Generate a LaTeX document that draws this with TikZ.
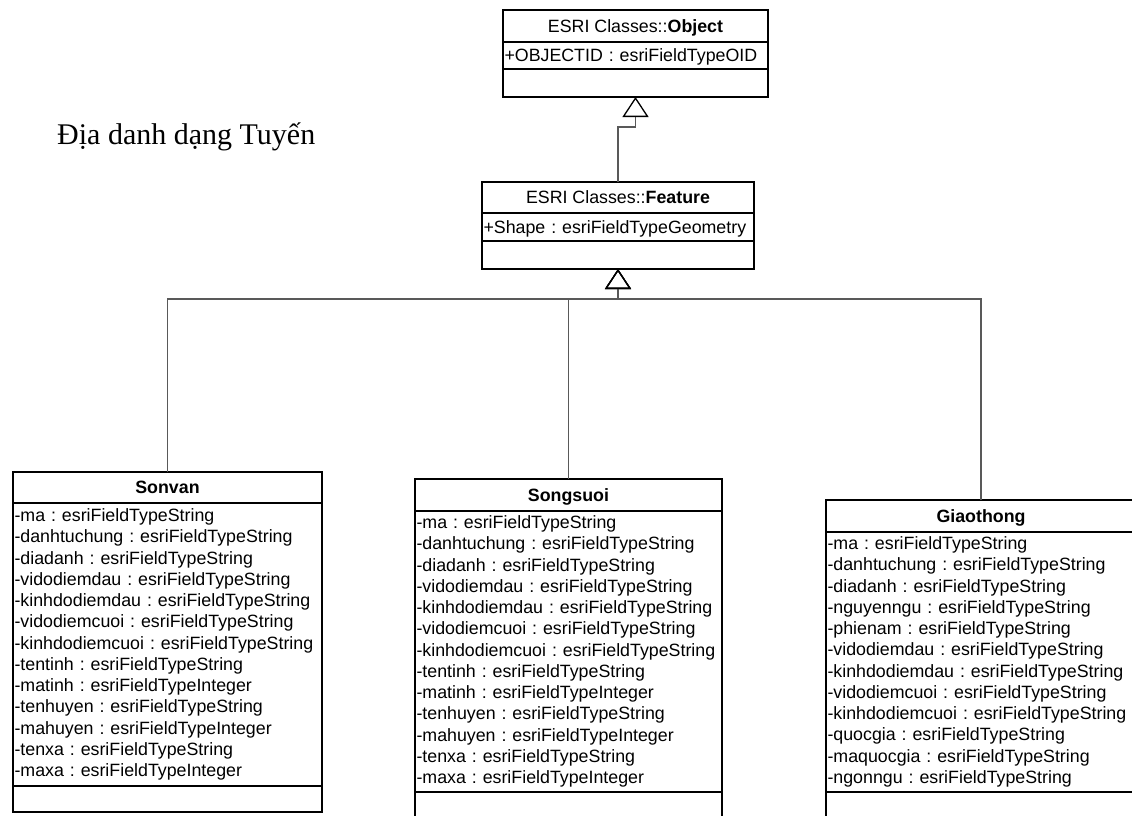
\documentclass[tikz,border=0pt]{standalone}
\usepackage{fontspec}
\setmainfont{Liberation Sans}
\newfontfamily\headfont{Liberation Serif}
\usetikzlibrary{positioning,calc,arrows.meta}
\frenchspacing
\tikzset{
  clstitle/.style={draw, line width=1.5pt, outer sep=0pt, inner sep=0pt, text height=12.7pt, text depth=0pt},
  clsattr/.style={draw, line width=1.5pt, outer sep=0pt, inner xsep=1.5pt, inner ysep=0pt, align=left},
  clsline/.style={clsattr, text height=12.7pt, text depth=0pt},
  clsops/.style={draw, line width=1.5pt, outer sep=0pt, inner sep=0pt},
  gen/.style={draw=black!65, line width=1.2pt, -{Triangle[open, width=26pt, length=20pt, color=black, line width=1.3pt]}}
}

\begin{document}
\begin{tikzpicture}[x=1pt, y=-1pt, font=\fontsize{17.8}{21.25}\selectfont]
\useasboundingbox (0,0) rectangle (1132,816);
\node[anchor=base west, inner sep=0pt, font=\headfont\fontsize{30}{36}\selectfont] (heading) at (57,144) {Địa danh dạng Tuyến};

\node[clstitle, anchor=north west, minimum width=265pt, minimum height=32pt] (object) at (503,10) {ESRI Classes::\textbf{Object}};
\node[clsline, text width=262pt, minimum height=27pt, below=0pt of object] (objectattr) {+OBJECTID : esriFieldTypeOID};
\node[clsops, minimum width=265pt, minimum height=28pt, below=0pt of objectattr] (objectops) {};

\node[clstitle, anchor=north west, minimum width=272pt, minimum height=31pt] (feature) at (482,182) {ESRI Classes::\textbf{Feature}};
\node[clsline, text width=269pt, minimum height=28pt, below=0pt of feature] (featureattr) {+Shape : esriFieldTypeGeometry};
\node[clsops, minimum width=272pt, minimum height=28pt, below=0pt of featureattr] (featureops) {};

\node[clstitle, anchor=north west, minimum width=309pt, minimum height=31pt] (sonvan) at (13,472) {\textbf{Sonvan}};
\node[clsattr, text width=306pt, minimum height=283pt, below=0pt of sonvan] (sonvanattr) {-ma : esriFieldTypeString\\
-danhtuchung : esriFieldTypeString\\
-diadanh : esriFieldTypeString\\
-vidodiemdau : esriFieldTypeString\\
-kinhdodiemdau : esriFieldTypeString\\
-vidodiemcuoi : esriFieldTypeString\\
-kinhdodiemcuoi : esriFieldTypeString\\
-tentinh : esriFieldTypeString\\
-matinh : esriFieldTypeInteger\\
-tenhuyen : esriFieldTypeString\\
-mahuyen : esriFieldTypeInteger\\
-tenxa : esriFieldTypeString\\
-maxa : esriFieldTypeInteger};
\node[clsops, minimum width=309pt, minimum height=26pt, below=0pt of sonvanattr] (sonvanops) {};

\node[clstitle, anchor=north west, minimum width=307pt, minimum height=32pt] (songsuoi) at (415,479) {\textbf{Songsuoi}};
\node[clsattr, text width=304pt, minimum height=281pt, below=0pt of songsuoi] (songsuoiattr) {-ma : esriFieldTypeString\\
-danhtuchung : esriFieldTypeString\\
-diadanh : esriFieldTypeString\\
-vidodiemdau : esriFieldTypeString\\
-kinhdodiemdau : esriFieldTypeString\\
-vidodiemcuoi : esriFieldTypeString\\
-kinhdodiemcuoi : esriFieldTypeString\\
-tentinh : esriFieldTypeString\\
-matinh : esriFieldTypeInteger\\
-tenhuyen : esriFieldTypeString\\
-mahuyen : esriFieldTypeInteger\\
-tenxa : esriFieldTypeString\\
-maxa : esriFieldTypeInteger};
\node[clsops, minimum width=307pt, minimum height=40pt, below=0pt of songsuoiattr] (songsuoiops) {};

\node[clstitle, anchor=north west, minimum width=310pt, minimum height=32pt] (giaothong) at (826,500) {\textbf{Giaothong}};
\node[clsattr, text width=307pt, minimum height=260pt, below=0pt of giaothong] (giaothongattr) {-ma : esriFieldTypeString\\
-danhtuchung : esriFieldTypeString\\
-diadanh : esriFieldTypeString\\
-nguyenngu : esriFieldTypeString\\
-phienam : esriFieldTypeString\\
-vidodiemdau : esriFieldTypeString\\
-kinhdodiemdau : esriFieldTypeString\\
-vidodiemcuoi : esriFieldTypeString\\
-kinhdodiemcuoi : esriFieldTypeString\\
-quocgia : esriFieldTypeString\\
-maquocgia : esriFieldTypeString\\
-ngonngu : esriFieldTypeString};
\node[clsops, minimum width=310pt, minimum height=40pt, below=0pt of giaothongattr] (giaothongops) {};

\draw[gen] (feature.north) |- ++(0,-55) -| (objectops.south);
\draw[gen] (sonvan.north) |- ($(featureops.south)+(0,30)$) -| (featureops.south);
\draw[gen] (songsuoi.north) |- ($(featureops.south)+(0,30)$) -| (featureops.south);
\draw[gen] (giaothong.north) |- ($(featureops.south)+(0,30)$) -| (featureops.south);
\end{tikzpicture}
\end{document}
